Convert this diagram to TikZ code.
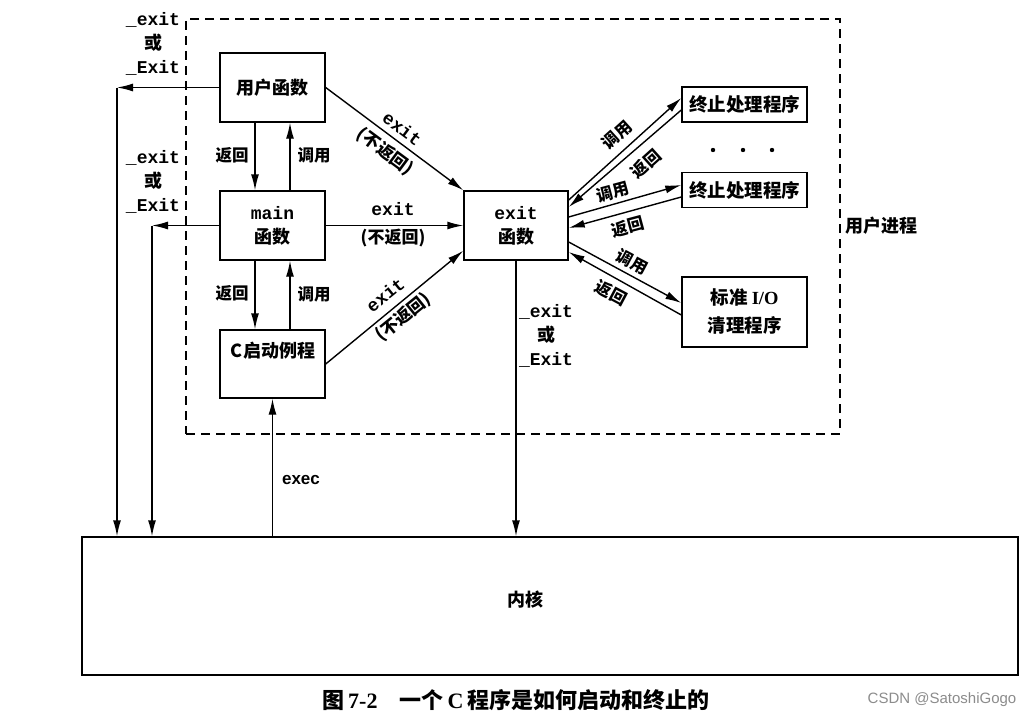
\documentclass[tikz,border=0pt]{standalone}
\usepackage{fontspec}
\newfontfamily\cjk{Noto Sans CJK SC}
\newfontfamily\mono{Liberation Mono}
\newfontfamily\hel{Liberation Sans}
\newfontfamily\lserif{Liberation Serif}
\usetikzlibrary{arrows.meta,calc}
\tikzset{
  box/.style={draw, line width=1.4pt, minimum width=105pt, minimum height=69pt,
    inner sep=0pt, align=center, font=\cjk\bfseries\fontsize{18}{24}\selectfont},
  hbox/.style={draw, line width=1.4pt, minimum width=125pt, minimum height=35pt,
    inner sep=0pt, align=center, font=\cjk\bfseries\fontsize{18.5}{28}\selectfont},
  txt/.style={inner sep=0pt, align=center, font=\cjk\bfseries\fontsize{18}{24}\selectfont},
  dlbl/.style={inner sep=0pt, align=center, font=\cjk\bfseries\fontsize{17}{28}\selectfont},
  lbl/.style={inner sep=0pt, align=center, font=\cjk\bfseries\fontsize{16.5}{24}\selectfont},
  elbl/.style={inner sep=0pt, align=center, font=\mono\bfseries\fontsize{18}{24}\selectfont},
  arr/.style={-{Latex[length=16pt,width=8pt]}, line width=1.4pt},
}
\begin{document}
\begin{tikzpicture}[x=1pt,y=-1pt]
\useasboundingbox (0,0) rectangle (1036,717);
\fill[white] (0,0) rectangle (1036,717);

% user process boundary
\node[draw, dash pattern=on 9pt off 6pt, line width=1.3pt, minimum width=654pt,
  minimum height=415pt, inner sep=0pt] (proc) at (513,226.5) {};
\node[txt] (proclbl) at (881,226) {用户进程};

% functions inside the process
\node[box] (uf) at (272.5,87.5) {用户函数};
\node[box] (mn) at (272.5,225.5) {{\mono\fontsize{18}{24}\selectfont main}\\函数};
\node[box, minimum height=68pt] (cs) at (272.5,364) {};
\node[txt] (cst) at (273,351) {C启动例程};
\node[box, minimum width=104pt] (ex) at (516,225.5) {{\mono\fontsize{18}{24}\selectfont exit}\\函数};

% exit handlers
\node[hbox] (h1) at (744.5,104.5) {终止处理程序};
\node[hbox] (h2) at (744.5,190) {终止处理程序};
\node[hbox, minimum height=70pt] (h3) at (744.5,312) {标准 {\lserif I/O}\\清理程序};
\fill (713,150) circle (2.2pt) (743,150) circle (2.2pt) (772,150) circle (2.2pt);

% kernel
\node[draw, line width=1.4pt, minimum width=936pt, minimum height=138pt, inner sep=0pt]
  (kern) at (550,606) {};
\node[txt] (kt) at (525,600) {内核};

% _exit / _Exit straight to the kernel
\coordinate (k1) at (117,87.5);
\coordinate (k2) at (152,225.5);
\draw[arr] (uf.west) -- (k1);
\draw[arr] (k1) -- (k1 |- kern.north);
\draw[arr] (mn.west) -- (k2);
\draw[arr] (k2) -- (k2 |- kern.north);
\node[elbl] (l1) at (153,44) {\_exit\\{\cjk 或}\\\_Exit};
\node[elbl] (l2) at (153,182) {\_exit\\{\cjk 或}\\\_Exit};

% call / return between the start-up chain
\draw[arr] ([xshift=-17.5pt]uf.south) -- ([xshift=-17.5pt]mn.north);
\draw[arr] ([xshift=17.5pt]mn.north) -- ([xshift=17.5pt]uf.south);
\draw[arr] ([xshift=-17.5pt]mn.south) -- ([xshift=-17.5pt]cs.north);
\draw[arr] ([xshift=17.5pt]cs.north) -- ([xshift=17.5pt]mn.south);
\node[lbl] (r1) at (232,155) {返回};
\node[lbl] (c1) at (314,155) {调用};
\node[lbl] (r2) at (232,293) {返回};
\node[lbl] (c2) at (314,294) {调用};

% exec
\draw[arr] (cs.south |- kern.north) -- (cs.south);
\node[inner sep=0pt, font=\hel\bfseries\fontsize{17}{20}\selectfont] (execl) at (301,480) {exec};

% exit calls
\draw[arr] (uf.east) -- (ex.north west);
\draw[arr] (mn.east) -- (ex.west);
\draw[arr] (cs.east) -- ([yshift=10pt]ex.south west);
\node[dlbl, rotate=-36.5] (e1) at (393,141) {{\mono\fontsize{18}{28}\selectfont exit}\\(不返回)};
\node[dlbl] (e2) at (393,225) {{\mono\fontsize{18}{26}\selectfont exit}\\(不返回)};
\node[dlbl, rotate=39] (e3) at (395,307) {{\mono\fontsize{18}{28}\selectfont exit}\\(不返回)};

% exit to kernel
\draw[arr] (ex.south) -- (ex.south |- kern.north);
\node[elbl] (l3) at (546,336) {\_exit\\{\cjk 或}\\\_Exit};

% handlers: call and return
\draw[arr] ([yshift=25.5pt]ex.east) -- ([yshift=6.5pt]h1.west);
\draw[arr] ([yshift=-5.5pt]h1.west) -- ([yshift=18.5pt]ex.east);
\draw[arr] ([yshift=8.5pt]ex.east) -- ([yshift=5pt]h2.west);
\draw[arr] ([yshift=-7pt]h2.west) -- ([yshift=-2.5pt]ex.east);
\draw[arr] ([yshift=-16.5pt]ex.east) -- ([yshift=9pt]h3.west);
\draw[arr] ([yshift=-3pt]h3.west) -- ([yshift=-26.5pt]ex.east);
\node[lbl, rotate=42] (hc1) at (617,135) {调用};
\node[lbl, rotate=42] (hr1) at (646,164) {返回};
\node[lbl, rotate=15] (hc2) at (613,192) {调用};
\node[lbl, rotate=15] (hr2) at (628,227) {返回};
\node[lbl, rotate=-28] (hc3) at (632,262) {调用};
\node[lbl, rotate=-28] (hr3) at (611,293) {返回};

% caption and credit
\node[inner sep=0pt, anchor=west, font=\cjk\bfseries\fontsize{22}{24}\selectfont] (cap) at (322,700)
  {图\hspace{4pt}{\lserif 7-2}\hspace{22pt}一个\hspace{4pt}{\lserif C}\hspace{4pt}程序是如何启动和终止的};
\node[inner sep=0pt, text=black!45, font=\hel\fontsize{15}{18}\selectfont] (wm) at (942,700) {CSDN @SatoshiGogo};
\end{tikzpicture}
\end{document}
